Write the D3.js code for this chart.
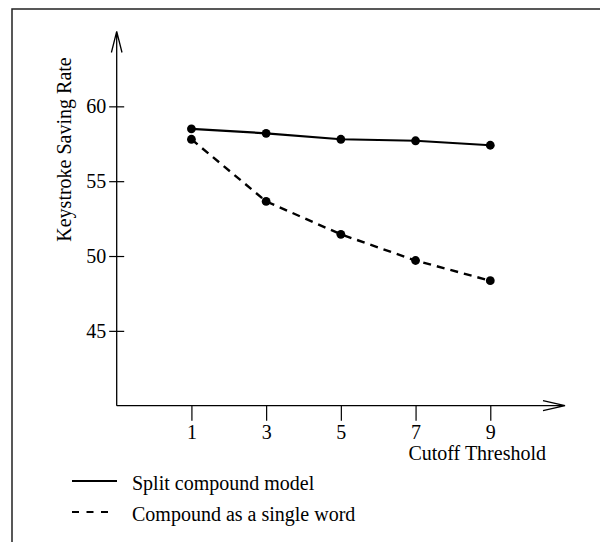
<!DOCTYPE html>
<html>
<head>
<meta charset="utf-8">
<script src="https://cdn.jsdelivr.net/npm/d3@7"></script>
<style>
  body { margin: 0; background: #fff; }
  svg { display: block; font-family: "Liberation Serif", "Times New Roman", serif; }
</style>
</head>
<body>
<div id="chart"></div>
<script>
// data
const thresholds = [1, 3, 5, 7, 9];
const splitCompound = [58.5, 58.2, 57.8, 57.7, 57.4];
const singleWord = [57.8, 53.65, 51.45, 49.7, 48.35];
const yTicks = [45, 50, 55, 60];
const seriesNames = ["Split compound model", "Compound as a single word"];

const width = 600;
const height = 542;

const svg = d3.select("#chart")
  .append("svg")
  .attr("width", width)
  .attr("height", height);

// frame round the figure (runs off the page on right / bottom)
svg.append("rect")
  .attr("x", 12)
  .attr("y", 9)
  .attr("width", 700)
  .attr("height", 700)
  .attr("fill", "none")
  .attr("stroke", "#222")
  .attr("stroke-width", 1.5);

const x = d3.scaleLinear().domain([-1, 11]).range([116.7, 565]);
const y = d3.scaleLinear().domain([40, 65]).range([405.7, 31.5]);

// y axis, ticks cross the axis line
svg.append("g")
  .attr("transform", `translate(${x(-1)},0)`)
  .call(d3.axisLeft(y).tickValues(yTicks).tickSizeOuter(0).tickSize(7.5).tickPadding(3))
  .call(g => g.select(".domain").remove())
  .call(g => g.selectAll(".tick line").attr("x1", 7.5).attr("stroke", "#000").attr("stroke-width", 1.2))
  .call(g => g.selectAll(".tick text").attr("font-size", 20).attr("fill", "#000")
    .attr("font-family", "Liberation Serif"));

// x axis
svg.append("g")
  .attr("transform", `translate(0,${y(40)})`)
  .call(d3.axisBottom(x).tickValues(thresholds).tickSizeOuter(0).tickSize(15).tickPadding(4))
  .call(g => g.select(".domain").remove())
  .call(g => g.selectAll(".tick line").attr("stroke", "#000").attr("stroke-width", 1.2))
  .call(g => g.selectAll(".tick text").attr("font-size", 20).attr("fill", "#000")
    .attr("font-family", "Liberation Serif"));

// axis lines with open arrow heads
const ax = svg.append("g")
  .attr("stroke", "#000")
  .attr("stroke-width", 1.3)
  .attr("fill", "none");
ax.append("path")
  .attr("d", `M${x(-1)},${y(40)}H${x(11)}M${x(11) - 22},${y(40) - 5}L${x(11)},${y(40)}L${x(11) - 22},${y(40) + 5}`);
ax.append("path")
  .attr("d", `M${x(-1)},${y(40)}V${y(65)}M${x(-1) - 5.3},${y(65) + 21}L${x(-1)},${y(65)}L${x(-1) + 5.3},${y(65) + 21}`);

// axis titles
svg.append("text")
  .attr("transform", "translate(71,149.5) rotate(-90)")
  .attr("text-anchor", "middle")
  .attr("font-size", 20)
  .text("Keystroke Saving Rate");

svg.append("text")
  .attr("x", 546)
  .attr("y", 460)
  .attr("text-anchor", "end")
  .attr("font-size", 20)
  .text("Cutoff Threshold");

// series
const series = [
  { name: seriesNames[0], values: splitCompound, dash: null, width: 2.2 },
  { name: seriesNames[1], values: singleWord, dash: "8,6", width: 2.4 }
];

const line = d3.line()
  .x((d, i) => x(thresholds[i]))
  .y(d => y(d));

series.forEach(s => {
  svg.append("path")
    .datum(s.values)
    .attr("d", line)
    .attr("fill", "none")
    .attr("stroke", "#000")
    .attr("stroke-width", s.width)
    .attr("stroke-dasharray", s.dash);

  svg.append("g")
    .selectAll("circle")
    .data(s.values)
    .enter().append("circle")
    .attr("cx", (d, i) => x(thresholds[i]))
    .attr("cy", d => y(d))
    .attr("r", 4.4)
    .attr("fill", "#000");
});

// legend
const legend = svg.append("g");
series.forEach((s, i) => {
  const ly = 481 + i * 31;
  legend.append("line")
    .attr("x1", 72)
    .attr("x2", s.dash ? 112 : 117)
    .attr("y1", ly)
    .attr("y2", ly)
    .attr("stroke", "#000")
    .attr("stroke-width", 2.2)
    .attr("stroke-dasharray", s.dash ? "7,7.5" : null);
  legend.append("text")
    .attr("x", 132)
    .attr("y", ly + 8.5)
    .attr("font-size", 20)
    .text(s.name);
});
</script>
</body>
</html>
